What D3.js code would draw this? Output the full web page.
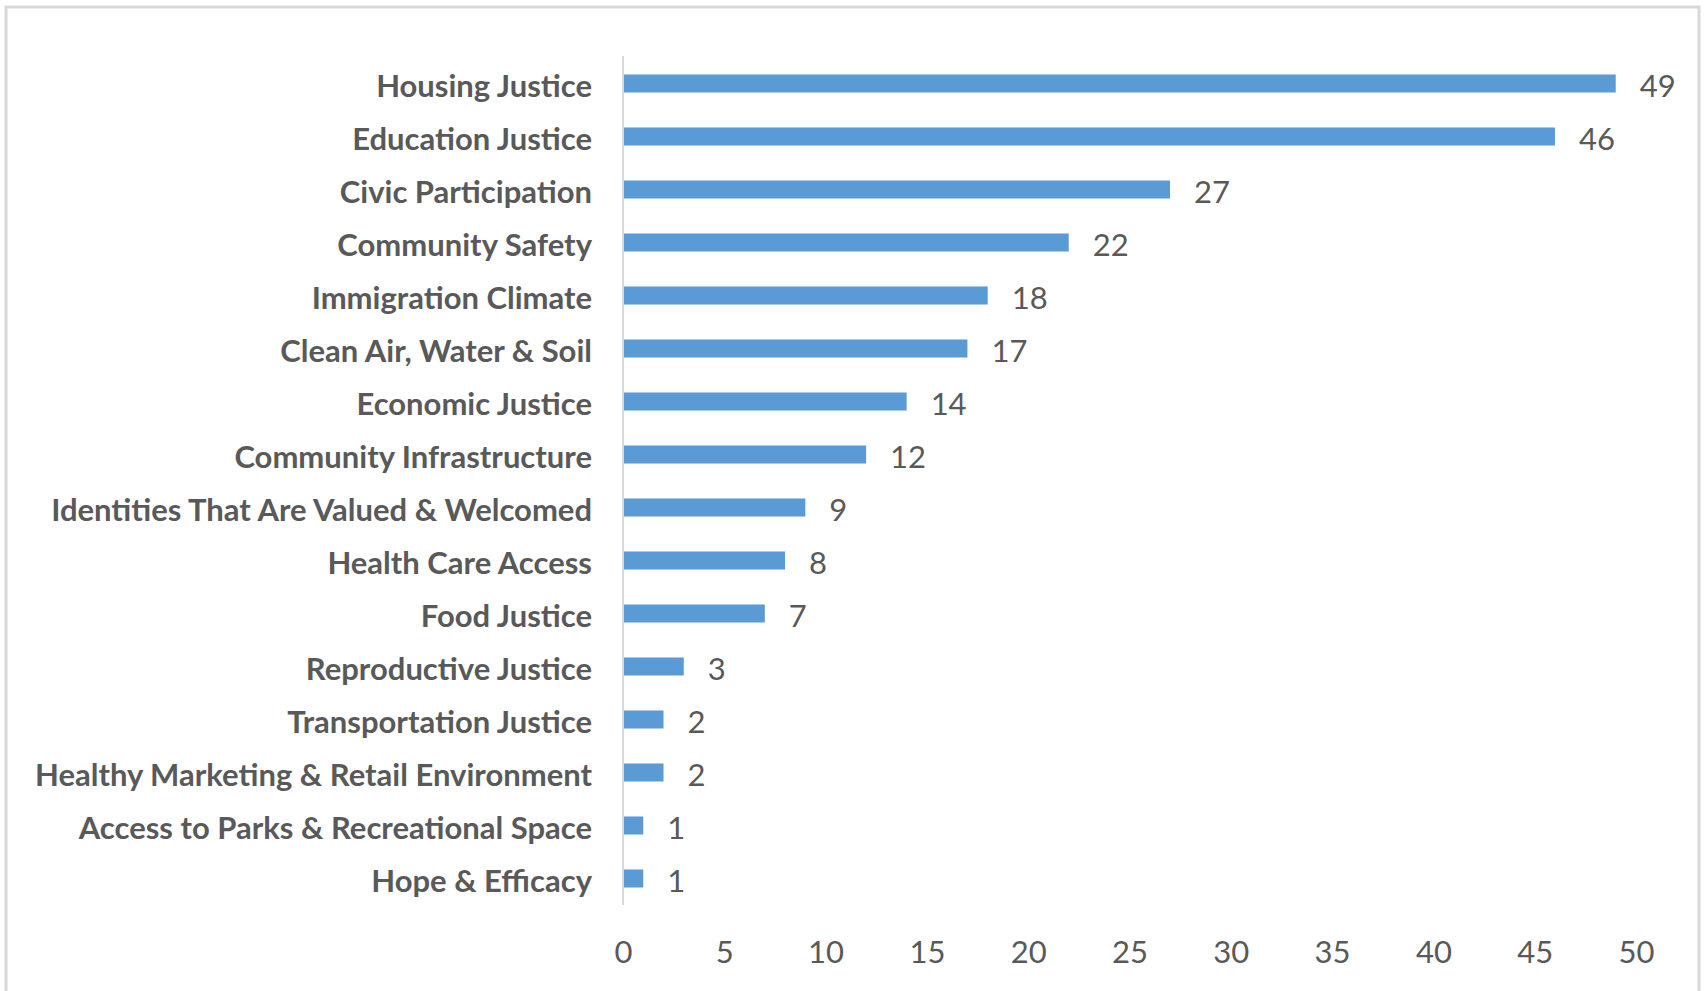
<!DOCTYPE html>
<html>
<head>
<meta charset="utf-8">
<script src="https://d3js.org/d3.v7.min.js"></script>
<style>
    body { margin: 0; background: #fff; }
    .cat-label { font-family: Lato, "Open Sans", sans-serif; font-weight: 700; font-size: 31px; fill: #595959; }
    .val-label, .tick text { font-family: Lato, "Open Sans", sans-serif; font-size: 31px; fill: #595959; }
</style>
</head>
<body>
<script>
    // data
    var categories = [
        "Housing Justice", "Education Justice", "Civic Participation", "Community Safety",
        "Immigration Climate", "Clean Air, Water & Soil", "Economic Justice",
        "Community Infrastructure", "Identities That Are Valued & Welcomed",
        "Health Care Access", "Food Justice", "Reproductive Justice",
        "Transportation Justice", "Healthy Marketing & Retail Environment",
        "Access to Parks & Recreational Space", "Hope & Efficacy"
    ];
    var counts = [49, 46, 27, 22, 18, 17, 14, 12, 9, 8, 7, 3, 2, 2, 1, 1];
    var xTicks = [0, 5, 10, 15, 20, 25, 30, 35, 40, 45, 50];

    var width = 1704, height = 991;
    var margin = {top: 57, right: 68, bottom: 86, left: 623};

    var svg = d3.select("body").append("svg")
        .attr("width", width)
        .attr("height", height);

    // chart frame
    svg.append("rect")
        .attr("x", 6).attr("y", 7)
        .attr("width", 1693).attr("height", 1010)
        .attr("fill", "none")
        .attr("stroke", "#d9d9d9")
        .attr("stroke-width", 3);

    var x = d3.scaleLinear()
        .domain([0, 50])
        .range([margin.left, width - margin.right]);

    var y = d3.scaleBand()
        .domain(categories)
        .range([margin.top, height - margin.bottom])
        .paddingInner(0.66)
        .paddingOuter(0.33);

    var data = categories.map(function (c, i) { return {name: c, value: counts[i]}; });

    // x axis labels, no line or ticks
    var xAxis = svg.append("g")
        .attr("transform", "translate(0," + (height - margin.bottom + 36) + ")")
        .call(d3.axisBottom(x).tickValues(xTicks).tickSize(0).tickPadding(0));
    xAxis.select(".domain").remove();
    xAxis.selectAll(".tick text").attr("dy", "0.71em").attr("font-family", null).attr("font-size", null).attr("fill", null);

    svg.selectAll(".bar")
        .data(data)
        .enter().append("rect")
        .attr("class", "bar")
        .attr("x", x(0))
        .attr("y", function (d) { return y(d.name); })
        .attr("width", function (d) { return x(d.value) - x(0); })
        .attr("height", y.bandwidth())
        .attr("fill", "#5b9bd5");

    // vertical category axis line
    svg.append("line")
        .attr("x1", x(0)).attr("x2", x(0))
        .attr("y1", margin.top - 1).attr("y2", height - margin.bottom)
        .attr("stroke", "#d9d9d9")
        .attr("stroke-width", 2);

    svg.selectAll(".cat-label")
        .data(data)
        .enter().append("text")
        .attr("class", "cat-label")
        .attr("x", x(0) - 31)
        .attr("y", function (d) { return y(d.name) + y.bandwidth() / 2 + 3; })
        .attr("dy", "0.35em")
        .attr("text-anchor", "end")
        .text(function (d) { return d.name; });

    svg.selectAll(".val-label")
        .data(data)
        .enter().append("text")
        .attr("class", "val-label")
        .attr("x", function (d) { return x(d.value) + 24; })
        .attr("y", function (d) { return y(d.name) + y.bandwidth() / 2 + 3; })
        .attr("dy", "0.35em")
        .text(function (d) { return d.value; });
</script>
</body>
</html>
